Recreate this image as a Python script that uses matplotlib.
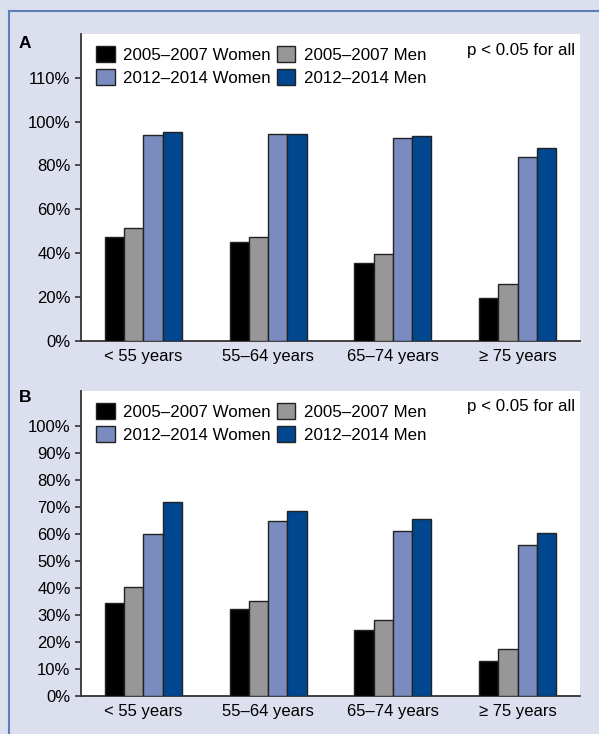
import numpy as np
import matplotlib
matplotlib.use('agg')
from matplotlib import pyplot as plt
from matplotlib.lines import Line2D
from matplotlib.patches import Patch

plt.rcParams['font.family'] = ['Liberation Sans', 'DejaVu Sans']

# data
groups = ["< 55 years", "55\u201364 years", "65\u201374 years", "\u2265 75 years"]
series = ["2005\u20132007 Women", "2005\u20132007 Men", "2012\u20132014 Women", "2012\u20132014 Men"]

panel_a_w05 = [47.5, 44.9, 35.6, 19.5]
panel_a_m05 = [51.5, 47.2, 39.6, 26.0]
panel_a_w12 = [93.9, 94.2, 92.6, 84.1]
panel_a_m12 = [95.2, 94.4, 93.5, 88.0]

panel_b_w05 = [34.6, 32.2, 24.4, 12.8]
panel_b_m05 = [40.2, 35.2, 28.0, 17.4]
panel_b_w12 = [60.0, 64.8, 61.2, 56.0]
panel_b_m12 = [72.0, 68.7, 65.4, 60.4]

a_ticks = [0, 20, 40, 60, 80, 100, 120]
a_ticklabels = ["0%", "20%", "40%", "60%", "80%", "100%", "110%"]
b_ticks = [0, 10, 20, 30, 40, 50, 60, 70, 80, 90, 100]
b_ticklabels = ["{}%".format(t) for t in b_ticks]

colors = ["#000000", "#979797", "#7a8bbf", "#00478f"]
BG = "#dcdfee"
BORDER = "#5a7fbb"
FS = 12.2
TFS = 12


def draw_panel(ax, values, ticks, ticklabels, ymax):
    x = np.arange(len(groups))
    w = 0.154
    for i, vals in enumerate(values):
        ax.bar(x + (i - 1.5) * w, vals, width=w, color=colors[i],
               edgecolor="#222222", linewidth=1.0, zorder=3)
    ax.set_xlim(-0.5, 3.5)
    ax.set_ylim(0, ymax)
    ax.set_xticks(x)
    ax.set_xticklabels(groups, fontsize=TFS)
    ax.set_yticks(ticks)
    ax.set_yticklabels(ticklabels, fontsize=TFS)
    ax.tick_params(axis='x', length=0, pad=6)
    ax.tick_params(axis='y', length=4.5, width=1.2, color="#333333", pad=3)
    for s in ['top', 'right']:
        ax.spines[s].set_visible(False)
    for s in ['left', 'bottom']:
        ax.spines[s].set_color("#333333")
        ax.spines[s].set_linewidth(1.3)
    ax.set_facecolor("white")

    handles = [Patch(facecolor=c, edgecolor="#222222", linewidth=1.0) for c in colors]
    order = [0, 2, 1, 3]
    ax.legend([handles[k] for k in order], [series[k] for k in order], ncol=2,
              loc='upper left', bbox_to_anchor=(0.02, 0.978), frameon=False,
              fontsize=FS, handlelength=1.1, handleheight=1.1,
              handletextpad=0.5, columnspacing=0.35, labelspacing=0.35,
              borderpad=0.3, borderaxespad=0.0)
    ax.text(0.99, 0.948, "p < 0.05 for all", transform=ax.transAxes,
            ha='right', va='center', fontsize=FS)


fig = plt.figure(figsize=(5.99, 7.34), dpi=100)
fig.patch.set_facecolor(BG)

ax_a = fig.add_axes([0.1352, 0.5358, 0.833, 0.4178])
draw_panel(ax_a, [panel_a_w05, panel_a_m05, panel_a_w12, panel_a_m12],
           a_ticks, a_ticklabels, 140)

ax_b = fig.add_axes([0.1352, 0.0518, 0.833, 0.4155])
draw_panel(ax_b, [panel_b_w05, panel_b_m05, panel_b_w12, panel_b_m12],
           b_ticks, b_ticklabels, 113)

fig.text(19 / 599, 1 - 43.5 / 734, "A", fontsize=12.5, fontweight='bold', va='center')
fig.text(19 / 599, 1 - 398 / 734, "B", fontsize=12.5, fontweight='bold', va='center')

# frame lines on top and left
fig.add_artist(Line2D([9 / 599, 1.0], [1 - 10.7 / 734, 1 - 10.7 / 734],
                      color=BORDER, linewidth=1.5, transform=fig.transFigure))
fig.add_artist(Line2D([9 / 599, 9 / 599], [0.0, 1 - 10.7 / 734],
                      color=BORDER, linewidth=1.5, transform=fig.transFigure))

fig.savefig("out.png", dpi=100, facecolor=BG)
